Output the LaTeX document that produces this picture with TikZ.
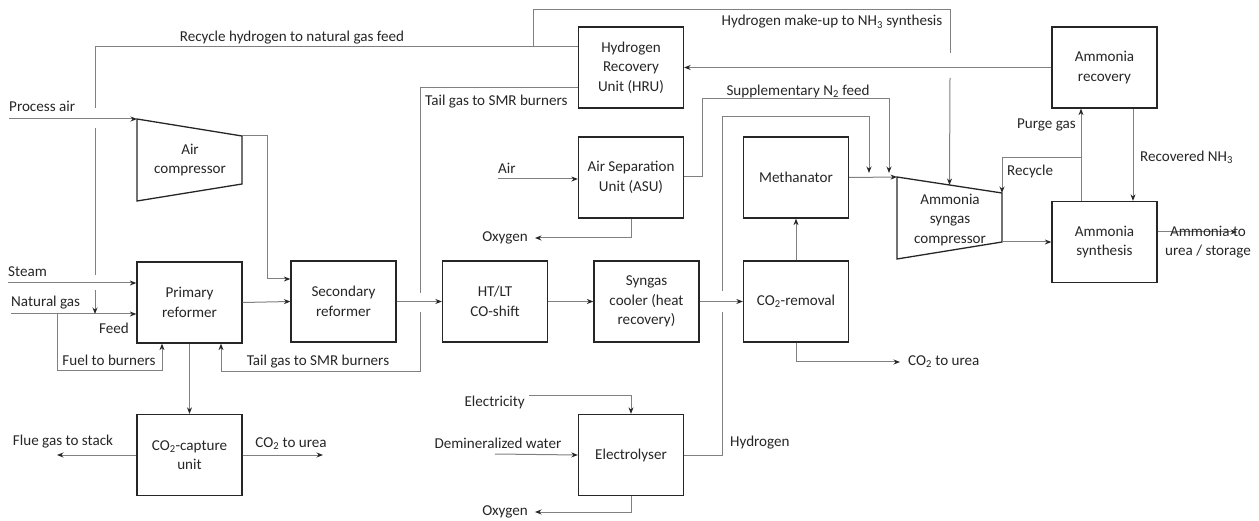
\documentclass[tikz,border=0pt]{standalone}
\usepackage{fontspec}
\setmainfont{Carlito}
\usetikzlibrary{arrows.meta,calc,positioning}
\tikzset{
  unit/.style={draw=black!85, line width=1.3pt, minimum width=105pt,
    minimum height=81pt, align=center, text=black!85},
  comp/.style={draw=black!85, line width=1.3pt},
  flow/.style={draw=black!50, line width=1pt},
  arr/.style={flow, -{Stealth[length=6.5pt,width=5pt,color=black!85]}},
  lbl/.style={text=black!85, inner sep=0pt, align=center},
}
\begin{document}
\begin{tikzpicture}[x=1pt,y=-1pt,
  every node/.style={font=\fontsize{15.1}{19.5}\selectfont}]
\useasboundingbox (0,0) rectangle (1259,521);
% units
\node[unit] (prim) at (189.5,302.5) {Primary\\reformer};
\node[unit] (sec) at (343.5,301.5) {Secondary\\reformer};
\node[unit] (cap) at (189.5,455) {CO\textsubscript{2}-capture\\unit};
\node[unit] (shift) at (495,301.5) {HT/LT\\CO-shift};
\node[unit] (cool) at (646.5,301.5) {Syngas\\cooler (heat\\recovery)};
\node[unit] (co2r) at (796,301.5) {CO\textsubscript{2}-removal};
\node[unit] (meth) at (796,177.5) {Methanator};
\node[unit] (hru) at (631,67.5) {Hydrogen\\Recovery\\Unit (HRU)};
\node[unit] (asu) at (631,177.5) {Air Separation\\Unit (ASU)};
\node[unit] (ely) at (631,455) {Electrolyser};
\node[unit] (rec) at (1104.5,67.5) {Ammonia\\recovery};
\node[unit] (syn) at (1104.5,242) {Ammonia\\synthesis};
% compressors
\coordinate (ac1) at (137,119);
\coordinate (ac2) at (242,136);
\coordinate (ac3) at (242,184);
\coordinate (ac4) at (137,201);
\draw[comp] (ac1) -- (ac2) -- (ac3) -- (ac4) -- cycle;
\node[lbl] (acomp) at (190,160) {Air\\compressor};
\coordinate (sc1) at (897,177);
\coordinate (sc2) at (1002,193);
\coordinate (sc3) at (1002,242);
\coordinate (sc4) at (897,259);
\draw[comp] (sc1) -- (sc2) -- (sc3) -- (sc4) -- cycle;
\node[lbl] (scomp) at (950,220) {Ammonia\\syngas\\compressor};
% feeds on the left
\coordinate (pair) at (9,119);
\coordinate (stm) at (8,283);
\coordinate (ng) at (11,314);
\coordinate (fuel) at (57,314);
\draw[arr] (pair) -- (ac1);
\draw[arr] (stm) -- (prim.west |- stm);
\draw[arr] (ng) -- (prim.west |- ng);
\draw[arr] (fuel) -- ++(0,57) -| ([xshift=-27.5pt]prim.south);
\draw[arr] (ac2) -- ++(25,0) |- (sec.west |- 0,279);
\node[lbl, anchor=west] (lpair) at (9,106) {Process air};
\node[lbl, anchor=west] (lstm) at (8,272) {Steam};
\node[lbl, anchor=west] (lng) at (11,303) {Natural gas};
\node[lbl, anchor=east] (lfeed) at (129,328) {Feed};
\node[lbl] (lfuel) at (109,360) {Fuel to burners};
% recycle hydrogen
\draw[flow] (hru.west |- 0,47) -- (95,47) -- (95,108);
\draw[flow] (95,128) -- (95,275);
\draw[arr] (95,290) -- (95,314);
\node[lbl] (lrh) at (292,38) {Recycle hydrogen to natural gas feed};
% hydrogen make-up
\draw[flow] (533,47) -- (533,10) -- (950,10) -- (950,53);
\draw[arr] (950,78) -- ($(sc1)!0.5!(sc2)$);
\node[lbl] (lmu) at (832,22) {Hydrogen make-up to NH\textsubscript{3} synthesis};
% tail gas
\draw[flow] (hru.west |- 0,88) -- (420,88) -- (420,293);
\draw[arr] (420,312) -- (420,372) -| ([xshift=31.5pt]prim.south);
\node[lbl, anchor=west] (ltg1) at (425,102) {Tail gas to SMR burners};
\node[lbl] (ltg2) at (318,362) {Tail gas to SMR burners};
% main train
\draw[arr] (prim.east) -- (sec.west);
\draw[arr] (sec.east) -- (shift.west);
\draw[arr] (shift.east) -- (cool.west);
\draw[arr] (cool.east) -- (co2r.west);
\draw[arr] (co2r.north) -- (meth.south);
\draw[arr] (meth.east) -- (sc1);
\draw[arr] (co2r.south) |- (900,362);
\node[lbl, anchor=west] (lco2b) at (908,362) {CO\textsubscript{2} to urea};
% capture unit
\draw[arr] (prim.south) -- (cap.north);
\draw[arr] (cap.west) -- (57,455);
\draw[arr] (cap.east) -- (323,455);
\node[lbl] (lflue) at (63,442) {Flue gas to stack};
\node[lbl] (lco2a) at (291,444) {CO\textsubscript{2} to urea};
% air separation
\draw[arr] (498,179) -- (asu.west |- 0,179);
\draw[arr] (asu.south) |- (535,238);
\draw[arr] (asu.east |- 0,177) -- (702,177) -- (702,99) -- (889,99) -- (889,173);
\node[lbl, anchor=west] (lair) at (498,168) {Air};
\node[lbl, anchor=east] (lox1) at (528,238) {Oxygen};
\node[lbl] (ln2) at (798,91) {Supplementary N\textsubscript{2} feed};
% electrolyser
\draw[arr] (529,396) -| (ely.north);
\draw[arr] (495,454) -- (ely.west);
\draw[arr] (ely.south) |- (535,512);
\draw[flow] (ely.east) -- (722,455) -- (722,312);
\draw[arr] (722,291) -- (722,117) -- (869,117) -- (869,173);
\node[lbl, anchor=east] (lel) at (525,402) {Electricity};
\node[lbl] (ldw) at (498,443) {Demineralized water};
\node[lbl, anchor=east] (lox2) at (528,512) {Oxygen};
\node[lbl, anchor=west] (lh2) at (730,443) {Hydrogen};
% ammonia loop
\draw[arr] (rec.west) -- (hru.east);
\draw[arr] (sc3) -- (syn.west |- sc3);
\draw[arr] ([xshift=-23.5pt]syn.north) -- ([xshift=-23.5pt]rec.south);
\draw[arr] (1081,158) -| (sc2);
\draw[arr] ([xshift=28.5pt]rec.south) -- ([xshift=28.5pt]syn.north);
\draw[arr] (syn.east |- 0,232) -- (1237,232);
\node[lbl, anchor=east] (lpg) at (1076,125) {Purge gas};
\node[lbl, anchor=west] (lrc) at (1007,171) {Recycle};
\node[lbl, anchor=west] (lrn) at (1140,157) {Recovered NH\textsubscript{3}};
\node[lbl] (lout) at (1208,242) {Ammonia to\\urea / storage};
\end{tikzpicture}
\end{document}
